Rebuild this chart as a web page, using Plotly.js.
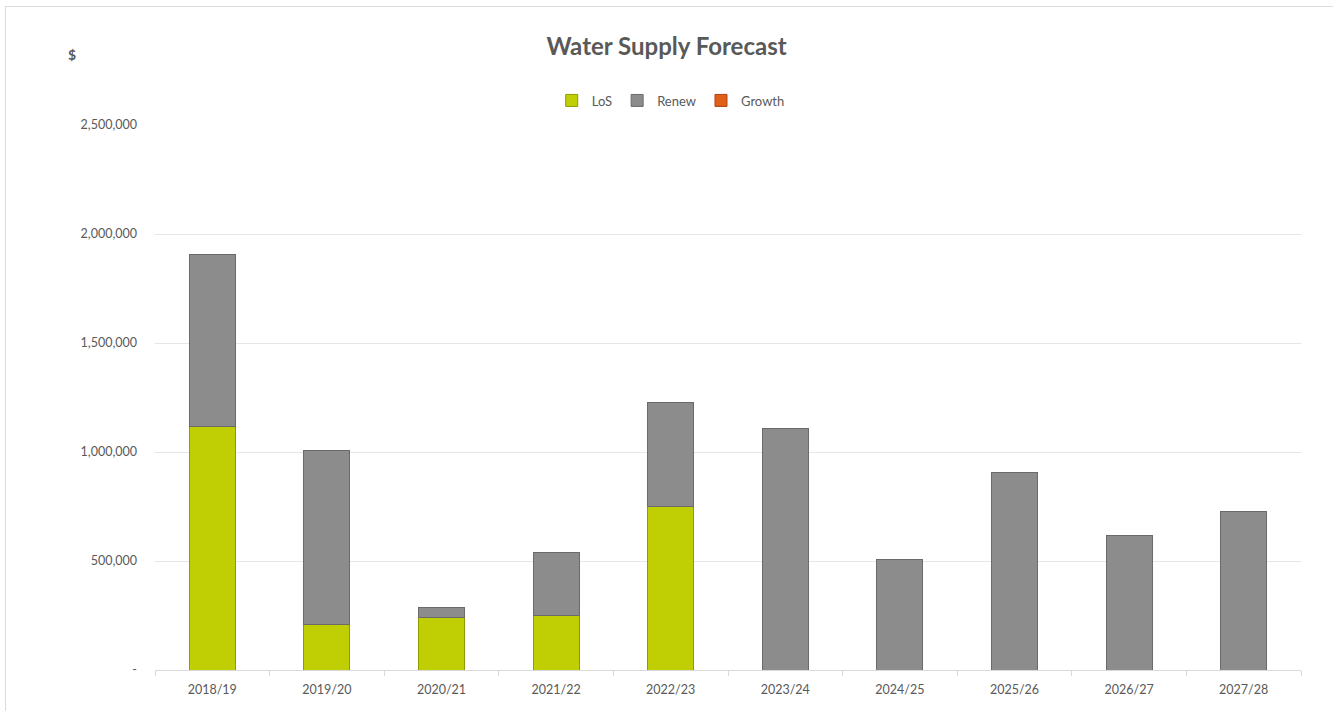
<!DOCTYPE html>
<html>
<head>
<meta charset="utf-8">
<script src="https://cdn.plot.ly/plotly-3.0.1.min.js"></script>
<style>
html,body{margin:0;padding:0;background:#fff;overflow:hidden;}
#frame{position:absolute;left:5px;top:6px;width:1340px;height:720px;border:1px solid #dcdcdc;box-sizing:border-box;}
#chart{position:absolute;left:0;top:0;width:1333px;height:711px;}
</style>
</head>
<body>
<div id="frame"></div>
<div id="chart"></div>
<script>
const categories = ["2018/19","2019/20","2020/21","2021/22","2022/23","2023/24","2024/25","2025/26","2026/27","2027/28"];
const losValues   = [1115000, 210000, 243000, 248000, 748000, 0, 0, 0, 0, 0];
const renewValues = [790000, 795000, 46000, 293000, 477000, 1110000, 509000, 904000, 619000, 725000];
const growthValues = [null, null, null, null, null, null, null, null, null, null];
const yTickVals = [0, 500000, 1000000, 1500000, 2000000, 2500000];
const yTickText = ["-", "500,000", "1,000,000", "1,500,000", "2,000,000", "2,500,000"];

const fontFam = "Lato, 'Open Sans', sans-serif";
const traces = [
  {type:"bar", name:"LoS", x:categories, y:losValues,
   marker:{color:"#c0cf04", line:{color:"#8f9c00", width:1}}},
  {type:"bar", name:"Renew", x:categories, y:renewValues,
   marker:{color:"#8c8c8c", line:{color:"#6a6a6a", width:1}}},
  {type:"bar", name:"Growth", x:categories, y:growthValues,
   marker:{color:"#e0601a", line:{color:"#b04510", width:1}}}
];
const layout = {
  width:1333, height:711, autosize:false,
  barmode:"stack", bargap:0.6,
  paper_bgcolor:"rgba(0,0,0,0)", plot_bgcolor:"rgba(0,0,0,0)",
  margin:{l:155, r:32, t:125, b:41, autoexpand:false},
  font:{family:fontFam, color:"#595959", size:12},
  title:{text:"<b>Water Supply Forecast</b>", x:0.5, xref:"container", xanchor:"center", y:0.935, yanchor:"middle", yref:"container",
         font:{size:24, color:"#595959", family:fontFam}},
  showlegend:true,
  legend:{orientation:"h", x:0.45, xanchor:"center", y:1.045, yanchor:"middle",
          font:{size:13, color:"#595959"}, traceorder:"normal", itemwidth:30},
  xaxis:{type:"category", showgrid:false, showline:true, linecolor:"#d9d9d9", linewidth:1,
         ticks:"outside", tickson:"boundaries", ticklen:5, tickcolor:"#d9d9d9", tickangle:0,
         ticklabelstandoff:8, automargin:false, tickfont:{size:12.5, color:"#595959"}, fixedrange:true},
  yaxis:{range:[0,2500000], tickvals:yTickVals, ticktext:yTickText, automargin:false,
         showgrid:true, gridcolor:"#e6e6e6", gridwidth:1, zeroline:false, showline:false,
         ticks:"", ticklabelstandoff:17, tickfont:{size:12.5, color:"#595959"}, fixedrange:true},
  annotations:[{text:"<b>$</b>", xref:"paper", yref:"paper", x:-0.072, y:1.13, showarrow:false,
                xanchor:"center", yanchor:"middle", font:{size:14, color:"#595959"}}]
};
Plotly.newPlot("chart", traces, layout, {displayModeBar:false, staticPlot:true});
</script>
</body>
</html>
